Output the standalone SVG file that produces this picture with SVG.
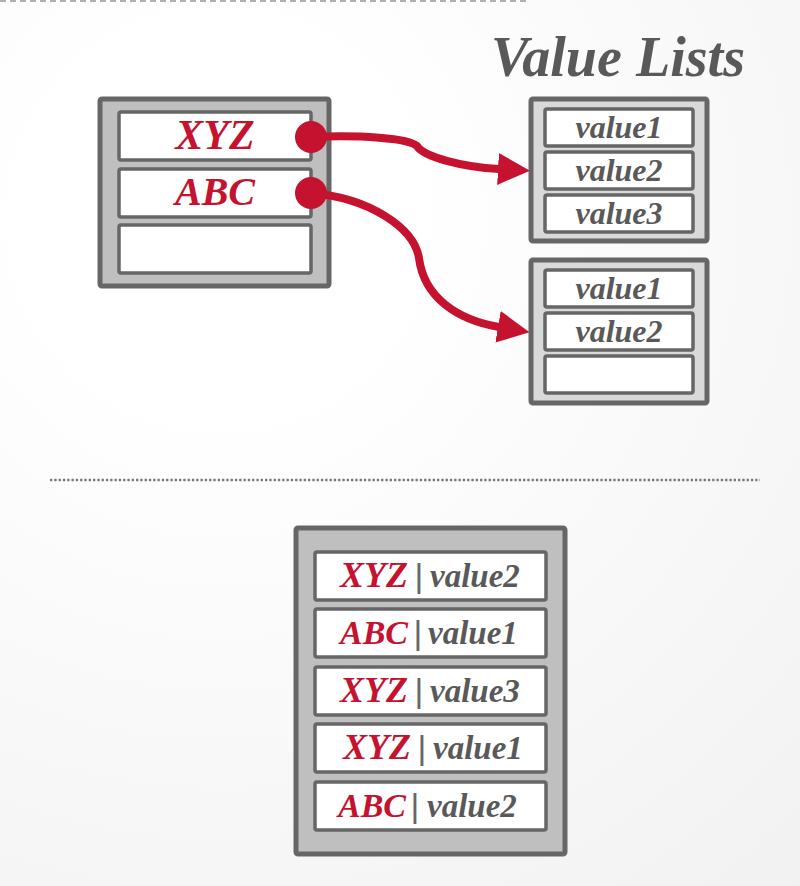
<svg xmlns="http://www.w3.org/2000/svg" width="800" height="886" viewBox="0 0 800 886">
  <defs>
    <radialGradient id="bg" gradientUnits="userSpaceOnUse" cx="220" cy="220" r="950">
      <stop offset="0.2" stop-color="#ffffff"/>
      <stop offset="1" stop-color="#f0f0f0"/>
    </radialGradient>
    <marker id="arrow" markerUnits="userSpaceOnUse" markerWidth="34" markerHeight="34" refX="1" refY="16" orient="auto">
      <path d="M0,0 L32,16 L0,32 Z" fill="#c5122f"/>
    </marker>
    <style>
      .outer { stroke: #666666; stroke-width: 5; }
      .outerL { fill: #bfbfbf; }
      .outerR { fill: #d9d9d9; }
      .row { fill: #ffffff; stroke: #666666; stroke-width: 3.5; }
      .key { font-family: "Liberation Serif", serif; font-weight: bold; font-style: italic; fill: #c5122f; }
      .val { font-family: "Liberation Serif", serif; font-weight: bold; font-style: italic; fill: #595959; }
      .bar { font-family: "Liberation Sans", sans-serif; font-weight: normal; fill: #666666; font-size: 34px; }
      .conn { fill: none; stroke: #c5122f; stroke-width: 8; }
    </style>
  </defs>

  <rect x="0" y="0" width="800" height="886" fill="url(#bg)"/>
  <line x1="0" y1="1" x2="530" y2="1" stroke="#b0b0b0" stroke-width="2" stroke-dasharray="6 4"/>
  <line x1="50" y1="480" x2="760" y2="480" stroke="#777777" stroke-width="2.5" stroke-dasharray="2.3 2"/>

  <text x="618" y="76" class="val" font-size="58" text-anchor="middle" textLength="254" lengthAdjust="spacingAndGlyphs" fill="#666666">Value Lists</text>

  <g id="hash-table">
    <rect x="100" y="99" width="229" height="187" rx="2" class="outer outerL"/>
    <rect x="119" y="112" width="192" height="48" rx="2" class="row"/>
    <rect x="119" y="169" width="192" height="48" rx="2" class="row"/>
    <rect x="119" y="225" width="192" height="48" rx="2" class="row"/>
    <text x="215" y="149" class="key" font-size="42" text-anchor="middle">XYZ</text>
    <text x="215" y="205" class="key" font-size="40" text-anchor="middle">ABC</text>
  </g>

  <g id="list1">
    <rect x="531" y="99" width="176" height="142" rx="2" class="outer outerR"/>
    <rect x="545" y="109" width="148" height="37" rx="2" class="row"/>
    <rect x="545" y="152" width="148" height="37" rx="2" class="row"/>
    <rect x="545" y="195" width="148" height="37" rx="2" class="row"/>
    <text x="619" y="138" class="val" font-size="32" text-anchor="middle">value1</text>
    <text x="619" y="181" class="val" font-size="32" text-anchor="middle">value2</text>
    <text x="619" y="224" class="val" font-size="32" text-anchor="middle">value3</text>
  </g>

  <g id="list2">
    <rect x="531" y="260" width="176" height="143" rx="2" class="outer outerR"/>
    <rect x="545" y="270" width="148" height="37" rx="2" class="row"/>
    <rect x="545" y="313" width="148" height="37" rx="2" class="row"/>
    <rect x="545" y="356" width="148" height="37" rx="2" class="row"/>
    <text x="619" y="299" class="val" font-size="32" text-anchor="middle">value1</text>
    <text x="619" y="342" class="val" font-size="32" text-anchor="middle">value2</text>
  </g>

  <g id="connectors">
    <path class="conn" marker-end="url(#arrow)" d="M311,137 C360,135 408,138 417,146 C424,157 462,167 499,169"/>
    <path class="conn" marker-end="url(#arrow)" d="M311,193 C370,198 414,228 419,258 C424,298 458,320 499,327"/>
    <circle cx="311" cy="137" r="16" fill="#c5122f"/>
    <circle cx="311" cy="193" r="16" fill="#c5122f"/>
  </g>

  <g id="sorted-table">
    <rect x="296" y="528" width="269" height="326" rx="2" class="outer outerL"/>
    <rect x="315" y="552" width="231" height="48" rx="2" class="row"/>
    <rect x="315" y="609" width="231" height="48" rx="2" class="row"/>
    <rect x="315" y="667" width="231" height="48" rx="2" class="row"/>
    <rect x="315" y="724" width="231" height="48" rx="2" class="row"/>
    <rect x="315" y="782" width="231" height="48" rx="2" class="row"/>

    <text x="408" y="587" class="key" font-size="36" text-anchor="end">XYZ</text>
    <text x="419" y="587" class="bar" text-anchor="middle">|</text>
    <text x="430" y="587" class="val" font-size="33">value2</text>

    <text x="408" y="644" class="key" font-size="34" text-anchor="end">ABC</text>
    <text x="418" y="644" class="bar" text-anchor="middle">|</text>
    <text x="428" y="644" class="val" font-size="33">value1</text>

    <text x="408" y="702" class="key" font-size="36" text-anchor="end">XYZ</text>
    <text x="419" y="702" class="bar" text-anchor="middle">|</text>
    <text x="430" y="702" class="val" font-size="33">value3</text>

    <text x="411" y="759" class="key" font-size="36" text-anchor="end">XYZ</text>
    <text x="422" y="759" class="bar" text-anchor="middle">|</text>
    <text x="433" y="759" class="val" font-size="33">value1</text>

    <text x="406" y="817" class="key" font-size="34" text-anchor="end">ABC</text>
    <text x="415" y="817" class="bar" text-anchor="middle">|</text>
    <text x="427" y="817" class="val" font-size="33">value2</text>
  </g>
</svg>
